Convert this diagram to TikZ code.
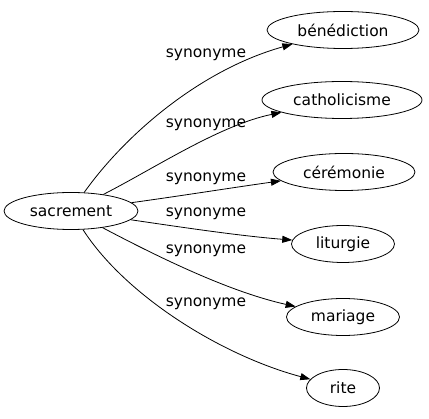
\documentclass[tikz,border=0pt]{standalone}
\usepackage{fontspec}
\setmainfont{DejaVu Sans}
\usetikzlibrary{shapes.geometric,arrows.meta}
\tikzset{
  word/.style={ellipse,draw,line width=0.8pt,inner sep=0pt,minimum height=37pt,font=\fontsize{15.5}{18}\selectfont},
  syn/.style={draw,line width=0.8pt,-{Triangle[length=10pt,width=7pt]}},
  lab/.style={font=\fontsize{15.5}{18}\selectfont,inner sep=0pt}
}
\begin{document}
\begin{tikzpicture}[x=1pt,y=-1pt]
\useasboundingbox (0,0) rectangle (429,419);
\node[word,minimum width=134pt] (sac) at (71,211) {sacrement};
\node[word,minimum width=152pt] (ben) at (343,30) {bénédiction};
\node[word,minimum width=160pt] (cat) at (342,100) {catholicisme};
\node[word,minimum width=142pt] (cer) at (344,172) {cérémonie};
\node[word,minimum width=103pt] (lit) at (343,244) {liturgie};
\node[word,minimum width=113pt] (mar) at (343,317) {mariage};
\node[word,minimum width=73pt] (rite) at (343,388) {rite};
\draw[syn] (sac) .. controls (125,135) and (200,70) .. (ben);
\draw[syn] (sac) .. controls (155,168) and (220,125) .. (cat);
\draw[syn] (sac) .. controls (180,196) and (230,188) .. (cer);
\draw[syn] (sac) .. controls (180,227) and (240,236) .. (lit);
\draw[syn] (sac) .. controls (160,258) and (230,292) .. (mar);
\draw[syn] (sac) .. controls (125,295) and (220,355) .. (rite);
\node[lab] (l1) at (206,55) {synonyme};
\node[lab] (l2) at (206,125) {synonyme};
\node[lab] (l3) at (206,179) {synonyme};
\node[lab] (l4) at (206,214) {synonyme};
\node[lab] (l5) at (206,251) {synonyme};
\node[lab] (l6) at (206,304) {synonyme};
\end{tikzpicture}
\end{document}
